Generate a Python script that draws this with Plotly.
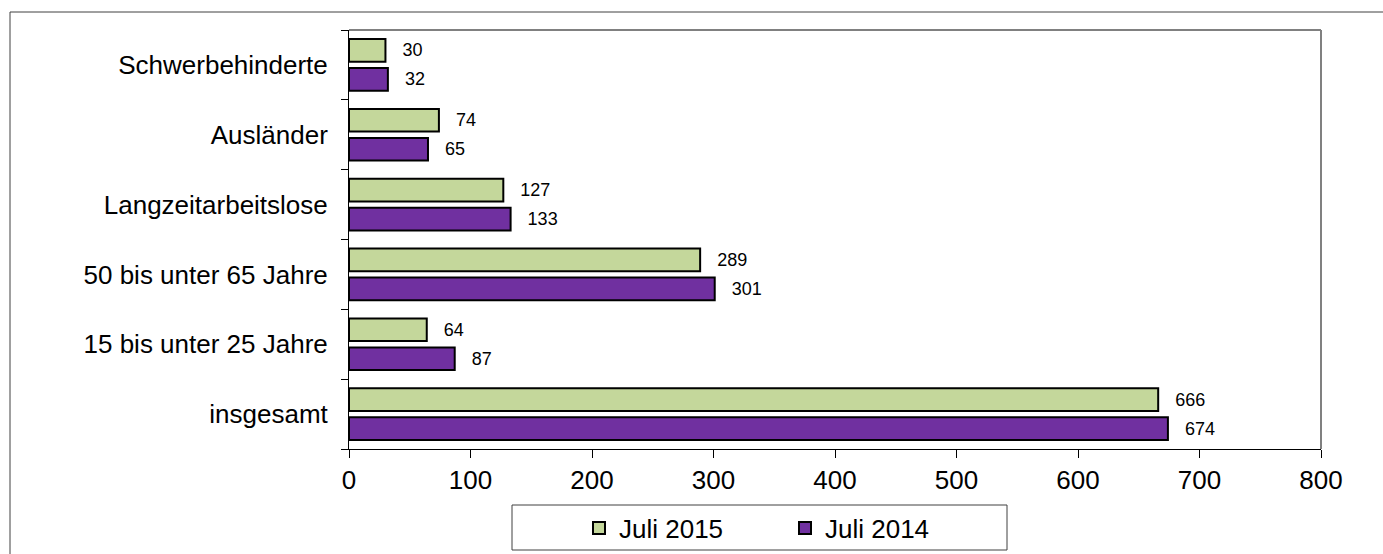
import plotly.graph_objects as go

categories = ["insgesamt", "15 bis unter 25 Jahre", "50 bis unter 65 Jahre",
              "Langzeitarbeitslose", "Ausländer", "Schwerbehinderte"]
juli_2014 = [674, 87, 301, 133, 65, 32]
juli_2015 = [666, 64, 289, 127, 74, 30]
x_ticks = [0, 100, 200, 300, 400, 500, 600, 700, 800]

FONT = "Arial, Liberation Sans, sans-serif"
PAD = "\u2002\u00a0"
W, H = 1383, 554

fig = go.Figure()
fig.add_trace(go.Bar(
    y=categories, x=juli_2014, orientation="h", name="Juli 2014",
    marker=dict(color="#7030A0", line=dict(color="black", width=2)),
    text=[PAD + str(v) for v in juli_2014], textposition="outside",
    textfont=dict(size=18, color="black", family=FONT),
    constraintext="none", cliponaxis=False, legendrank=2,
))
fig.add_trace(go.Bar(
    y=categories, x=juli_2015, orientation="h", name="Juli 2015",
    marker=dict(color="#C4D79B", line=dict(color="black", width=2)),
    text=[PAD + str(v) for v in juli_2015], textposition="outside",
    textfont=dict(size=18, color="black", family=FONT),
    constraintext="none", cliponaxis=False, legendrank=1,
))

fig.update_layout(
    width=W, height=H,
    margin=dict(l=349, r=62, t=30, b=105),
    barmode="group", bargap=0.17, bargroupgap=0.22,
    paper_bgcolor="white", plot_bgcolor="white",
    font=dict(family=FONT, size=26, color="black"),
    showlegend=True,
    legend=dict(orientation="h", xref="container", yref="container",
                x=579 / W, xanchor="left", y=(H - 528) / H, yanchor="middle",
                bgcolor="rgba(0,0,0,0)", borderwidth=0, font=dict(size=26),
                entrywidth=161, entrywidthmode="pixels", traceorder="normal"),
    xaxis=dict(range=[0, 800], tickvals=x_ticks, showgrid=False, zeroline=False,
               showline=True, linecolor="black", linewidth=1, automargin=False,
               ticks="outside", ticklen=8, tickcolor="black", tickfont=dict(size=26)),
    yaxis=dict(type="category", categoryorder="array", categoryarray=categories,
               showgrid=False, zeroline=False, showline=True, linecolor="black", linewidth=1,
               automargin=False,
               ticks="outside", ticklen=7, tickcolor="black", tickson="boundaries",
               tickfont=dict(size=26), ticklabelstandoff=15),
    shapes=[
        # plot frame (top/right)
        dict(type="line", xref="paper", yref="paper", x0=0, x1=1, y0=1, y1=1,
             line=dict(color="#808080", width=2)),
        dict(type="line", xref="paper", yref="paper", x0=1, x1=1, y0=0, y1=1,
             line=dict(color="#808080", width=2)),
        # legend box
        dict(type="rect", xref="paper", yref="paper",
             x0=(512 - 349) / 972, x1=(1007 - 349) / 972,
             y0=(449 - 550) / 419, y1=(449 - 505) / 419,
             line=dict(color="#404040", width=1)),
        # outer chart border (top/left visible)
        dict(type="line", xref="paper", yref="paper",
             x0=(10 - 349) / 972, x1=(1383 - 349) / 972,
             y0=(449 - 12) / 419, y1=(449 - 12) / 419,
             line=dict(color="#404040", width=1)),
        dict(type="line", xref="paper", yref="paper",
             x0=(10 - 349) / 972, x1=(10 - 349) / 972,
             y0=(449 - 12) / 419, y1=(449 - 554) / 419,
             line=dict(color="#404040", width=1)),
    ],
)

fig.write_html("out.html", config={"displayModeBar": False},
               post_script="document.body.style.margin='0';document.body.style.overflow='hidden';")
